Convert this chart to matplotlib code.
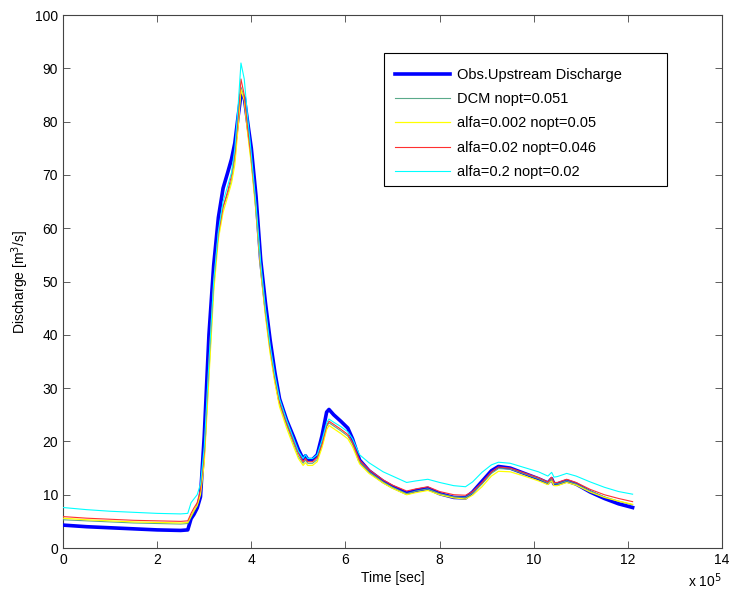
import matplotlib
matplotlib.use("Agg")
import matplotlib.pyplot as plt
from matplotlib.patches import Rectangle

plt.rcParams['font.family'] = ['Liberation Sans', 'DejaVu Sans']

# time in units of 1e5 sec
time_e5 = [0, 0.5, 1.0, 1.5, 2.0, 2.5, 2.65, 2.72, 2.78, 2.85, 2.92, 3.0, 3.1, 3.2, 3.3, 3.4, 3.5, 3.58,
           3.65, 3.72, 3.78, 3.85, 3.92, 4.0, 4.1, 4.2, 4.3, 4.4, 4.5, 4.6, 4.75, 4.9, 5.0, 5.1, 5.15, 5.2,
           5.3, 5.4, 5.5, 5.6, 5.65, 5.75, 5.9, 6.05, 6.15, 6.3, 6.5, 6.8, 7.0, 7.3, 7.5, 7.75, 8.0, 8.3,
           8.55, 8.7, 8.9, 9.1, 9.25, 9.5, 9.8, 10.1, 10.3, 10.38, 10.43, 10.5, 10.7, 10.9, 11.2, 11.5, 11.8, 12.1]

obs = [4.3, 4.0, 3.8, 3.6, 3.4, 3.3, 3.4, 5.5, 6.3, 7.5, 9.6, 21, 40, 53, 62, 67.5, 70.5, 73,
       76, 81, 85, 84.5, 80, 75, 66, 54, 46, 39, 33, 28, 24, 20.8, 18.5, 16.7, 17.3, 16.6,
       16.6, 17.5, 21, 25.5, 26, 25, 23.8, 22.5, 20.5, 16.5, 14.5, 12.5, 11.5, 10.3, 10.8, 11.2, 10.2, 9.5,
       9.4, 10.5, 12.5, 14.5, 15.3, 15.0, 14.0, 13.0, 12.2, 13.0, 12.0, 12.0, 12.6, 12.0, 10.5, 9.3, 8.3, 7.6]

dcm = [5.3, 5.1, 4.9, 4.7, 4.6, 4.5, 4.6, 5.8, 6.8, 8.0, 10.5, 17, 33, 49, 59, 64, 66.5, 69,
       73, 80, 86.5, 84.5, 78.5, 72.5, 63.5, 52.5, 44, 37, 31.5, 27, 23, 19.5, 17.2, 15.9, 16.5, 15.9,
       15.9, 16.6, 19.2, 22.8, 23.5, 22.9, 22.0, 21.0, 19.5, 16.2, 14.3, 12.4, 11.4, 10.2, 10.7, 11.1, 10.2, 9.6,
       9.5, 10.3, 12.0, 14.0, 14.9, 14.8, 13.9, 13.0, 12.2, 13.0, 12.1, 12.0, 12.6, 12.0, 10.7, 9.6, 8.8, 8.1]

alfa_0002 = [5.6, 5.3, 5.1, 4.9, 4.8, 4.7, 4.8, 6.0, 7.0, 8.0, 10, 16, 32, 48, 58, 63, 66, 68.5,
             72, 79, 86, 84, 78, 72, 63, 52, 43.5, 36.5, 31, 26.5, 22.5, 19, 16.8, 15.5, 16.0, 15.5,
             15.5, 16.2, 18.8, 22.2, 23.0, 22.4, 21.5, 20.5, 19.0, 15.8, 14.0, 12.2, 11.2, 10.0, 10.4, 10.8, 10.0, 9.4,
             9.2, 9.9, 11.5, 13.5, 14.4, 14.3, 13.5, 12.6, 11.9, 12.6, 11.7, 11.7, 12.3, 11.8, 10.5, 9.5, 8.8, 8.2]

alfa_002 = [5.9, 5.6, 5.4, 5.2, 5.1, 5.0, 5.1, 6.5, 7.5, 8.5, 11, 18, 35, 50, 59, 64, 67, 70,
            74, 81, 88, 85, 79, 73, 64, 53, 44.5, 37.5, 32, 27.5, 23.5, 20, 17.8, 16.2, 16.8, 16.2,
            16.2, 17, 19.5, 23, 23.8, 23.2, 22.3, 21.3, 19.8, 16.5, 14.7, 12.8, 11.8, 10.7, 11.1, 11.5, 10.6, 10.0,
            9.9, 10.6, 12.3, 14.3, 15.2, 15.0, 14.1, 13.2, 12.4, 13.3, 12.3, 12.3, 12.9, 12.3, 11.0, 10.0, 9.3, 8.7]

alfa_02 = [7.6, 7.2, 6.9, 6.7, 6.5, 6.4, 6.5, 8.5, 9.2, 10.0, 12, 19, 35, 50, 59.5, 65, 68, 70.5,
           75, 83, 91, 88, 81, 74, 64.5, 53.5, 45, 38, 32.5, 28, 24, 20.5, 18.2, 16.8, 17.5, 16.8,
           16.8, 17.5, 20.2, 23.5, 24.2, 23.6, 22.8, 21.8, 20.5, 17.5, 16.0, 14.3, 13.5, 12.3, 12.6, 12.9, 12.3, 11.7,
           11.5, 12.4, 14.2, 15.6, 16.1, 15.9, 15.1, 14.3, 13.5, 14.2, 13.3, 13.4, 14.0, 13.5, 12.4, 11.4, 10.6, 10.1]

labels = ['Obs.Upstream Discharge', 'DCM nopt=0.051', 'alfa=0.002 nopt=0.05',
          'alfa=0.02 nopt=0.046', 'alfa=0.2 nopt=0.02']
x_ticks = [0, 2, 4, 6, 8, 10, 12, 14]
y_ticks = [0, 10, 20, 30, 40, 50, 60, 70, 80, 90, 100]

fig = plt.figure(figsize=(7.32, 5.94), dpi=100)
ax = fig.add_axes([0.0861, 0.0774, 0.9003, 0.8973])

ax.plot(time_e5, obs, color='#0000ff', lw=2.6, label=labels[0], zorder=3)
ax.plot(time_e5, dcm, color='#5aaa8a', lw=0.8, label=labels[1], zorder=4)
ax.plot(time_e5, alfa_0002, color='#ffff00', lw=0.9, label=labels[2], zorder=4)
ax.plot(time_e5, alfa_002, color='#ff3030', lw=0.8, label=labels[3], zorder=4)
ax.plot(time_e5, alfa_02, color='#00ffff', lw=0.8, label=labels[4], zorder=4)

ax.set_xlim(0, 14)
ax.set_ylim(0, 100)
ax.set_xticks(x_ticks)
ax.set_yticks(y_ticks)
ax.tick_params(direction='in', top=True, right=True, labelsize=10, length=5, width=0.6, color='#444444')
for s in ax.spines.values():
    s.set_linewidth(0.8)
    s.set_color('#444444')

ax.set_xlabel('Time [sec]', fontsize=10, labelpad=3)
ax.set_ylabel('Discharge [m$^3$/s]', fontsize=10, labelpad=3)
ax.text(0.948, -0.044, r'x 10$^5$', transform=ax.transAxes, fontsize=10, ha='left', va='top')

# legend box (MATLAB style, extra right padding)
ax.add_patch(Rectangle((0.4871, 0.6792), 0.9165 - 0.4871, 0.9287 - 0.6792, transform=ax.transAxes,
                       facecolor='white', edgecolor='black', lw=0.8, zorder=5))
leg = ax.legend(loc='upper left', bbox_to_anchor=(0.5038, 0.9005), fontsize=10.5, frameon=False,
                handlelength=3.8, labelspacing=0.7, borderpad=0, borderaxespad=0, handletextpad=0.45)
leg.set_zorder(6)

fig.savefig('out.png', dpi=100)
